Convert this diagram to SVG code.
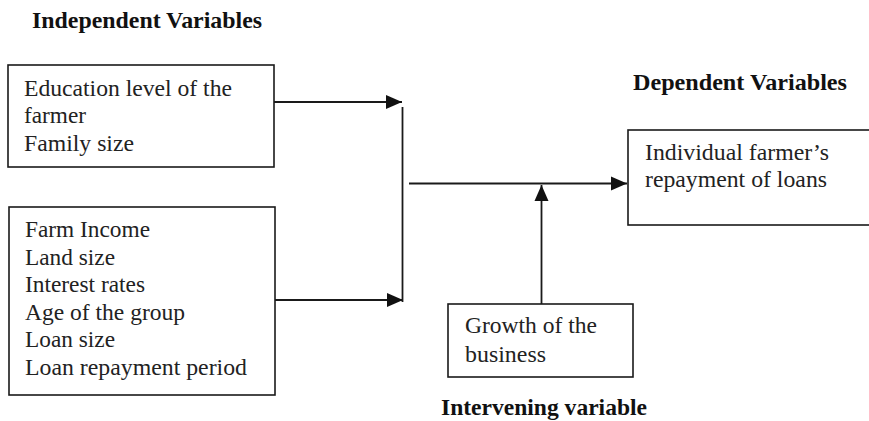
<svg xmlns="http://www.w3.org/2000/svg" width="869" height="421" viewBox="0 0 869 421">
<style>
.box{fill:#fff;stroke:#1a1a1a;stroke-width:1.6}
.t{font-family:"Liberation Serif","Times New Roman",serif;font-size:23.6px;fill:#222}
.h{font-family:"Liberation Serif","Times New Roman",serif;font-size:23.6px;font-weight:bold;fill:#111}
.ln{stroke:#1a1a1a;stroke-width:1.8;fill:none}
</style>
<defs>
<marker id="arr" markerUnits="userSpaceOnUse" markerWidth="17" markerHeight="17" viewBox="0 0 17 17" refX="16" refY="8.5" orient="auto">
<path d="M0,1.5 L16,8.5 L0,15.5 Z" fill="#111"/>
</marker>
</defs>
<rect width="869" height="421" fill="#fff"/>
<text class="h" x="32" y="28" textLength="230" lengthAdjust="spacingAndGlyphs">Independent Variables</text>
<text class="h" x="633" y="90" textLength="214" lengthAdjust="spacingAndGlyphs">Dependent Variables</text>
<text class="h" x="441" y="415" textLength="206" lengthAdjust="spacingAndGlyphs">Intervening variable</text>
<g id="node-indep1">
<rect class="box" x="8" y="65" width="266" height="102"/>
<text class="t" x="24" y="95.5" textLength="208" lengthAdjust="spacingAndGlyphs">Education level of the</text>
<text class="t" x="24" y="123" textLength="62" lengthAdjust="spacingAndGlyphs">farmer</text>
<text class="t" x="24" y="150.5" textLength="110" lengthAdjust="spacingAndGlyphs">Family size</text>
</g>
<g id="node-indep2">
<rect class="box" x="9" y="207" width="266" height="188"/>
<text class="t" x="25" y="237" textLength="125" lengthAdjust="spacingAndGlyphs">Farm Income</text>
<text class="t" x="25" y="265" textLength="90" lengthAdjust="spacingAndGlyphs">Land size</text>
<text class="t" x="25" y="292" textLength="120" lengthAdjust="spacingAndGlyphs">Interest rates</text>
<text class="t" x="25" y="320" textLength="160" lengthAdjust="spacingAndGlyphs">Age of the group</text>
<text class="t" x="25" y="347" textLength="90" lengthAdjust="spacingAndGlyphs">Loan size</text>
<text class="t" x="25" y="375" textLength="222" lengthAdjust="spacingAndGlyphs">Loan repayment period</text>
</g>
<g id="node-dep">
<rect class="box" x="628" y="130" width="260" height="95"/>
<text class="t" x="645" y="160" textLength="184" lengthAdjust="spacingAndGlyphs">Individual farmer’s</text>
<text class="t" x="645" y="187" textLength="182" lengthAdjust="spacingAndGlyphs">repayment of loans</text>
</g>
<g id="node-interv">
<rect class="box" x="448" y="304" width="185" height="73"/>
<text class="t" x="465" y="333" textLength="132" lengthAdjust="spacingAndGlyphs">Growth of the</text>
<text class="t" x="465" y="362" textLength="81" lengthAdjust="spacingAndGlyphs">business</text>
</g>
<g id="connectors">
<line class="ln" x1="274" y1="102" x2="402" y2="102" marker-end="url(#arr)"/>
<line class="ln" x1="275" y1="300" x2="403" y2="300" marker-end="url(#arr)"/>
<line class="ln" x1="402.5" y1="107" x2="402.5" y2="302" stroke-width="1.4"/>
<line class="ln" x1="409" y1="183.5" x2="627" y2="183.5" marker-end="url(#arr)"/>
<line class="ln" x1="541.5" y1="304" x2="541.5" y2="185" marker-end="url(#arr)"/>
</g>
</svg>
